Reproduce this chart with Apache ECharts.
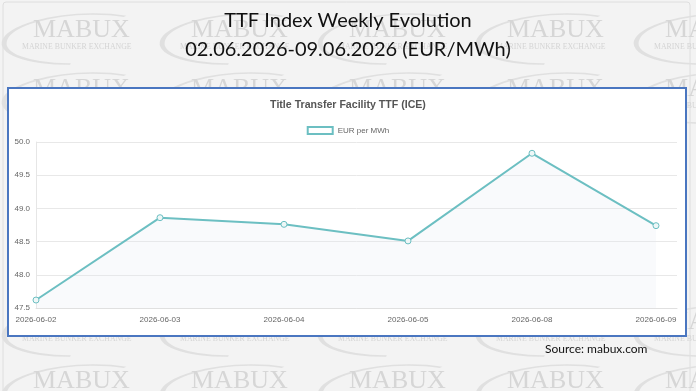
<!DOCTYPE html>
<html>
<head>
<meta charset="utf-8">
<script src="https://cdn.jsdelivr.net/npm/echarts@6/dist/echarts.min.js"></script>
<style>
  html, body { margin: 0; padding: 0; background: #f3f3f3; }
  #chart { width: 696px; height: 391px; }
</style>
</head>
<body>
<div id="chart"></div>
<script>
var dates = ['2026-06-02', '2026-06-03', '2026-06-04', '2026-06-05', '2026-06-08', '2026-06-09'];
var prices = [47.62, 48.86, 48.76, 48.51, 49.83, 48.74];
var seriesName = 'EUR per MWh';

var teal = '#6cbfc2';

var chartDom = document.getElementById('chart');
var myChart = echarts.init(chartDom);

// watermark logos behind everything
var marks = [];
var cols = [33, 191, 349, 507, 665];
var rows = [17, 76, 309, 368];
cols.forEach(function (x) {
  rows.forEach(function (y) {
    marks.push({
      type: 'arc', x: x + 48, y: y + 22, z: -10, silent: true,
      scaleY: 0.32, rotation: 0.06,
      shape: { cx: 0, cy: 0, r: 77, startAngle: Math.PI * 0.55, endAngle: Math.PI * 1.7, clockwise: true },
      style: { fill: null, stroke: '#e0e0e0', lineWidth: 5 }
    });
    marks.push({
      type: 'text', left: x, top: y, z: -9, silent: true,
      style: { text: 'MABUX', fill: '#d6d6d6', font: '26px "Liberation Serif"' }
    });
    marks.push({
      type: 'text', left: x - 11, top: y + 26, z: -9, silent: true,
      style: { text: 'MARINE BUNKER EXCHANGE', fill: '#d4d4d4', font: '7.8px "Liberation Serif"' }
    });
  });
});

var option = {
  backgroundColor: '#f3f3f3',
  animation: false,
  graphic: marks.concat([
    {
      type: 'rect', z: -11, silent: true,
      shape: { x: 3, y: 2, width: 687, height: 400, r: 3 },
      style: { fill: null, stroke: '#dedede', lineWidth: 1 }
    },
    {
      type: 'rect', z: -5, silent: true,
      shape: { x: 8, y: 88, width: 678, height: 248 },
      style: { fill: '#ffffff', stroke: '#4a76c0', lineWidth: 2 }
    },
    {
      type: 'text', left: 545, top: 343,
      style: { text: 'Source: mabux.com', fill: '#111', font: '12px Lato' }
    }
  ]),
  title: [
    {
      text: 'TTF Index Weekly Evolution',
      left: 'center', top: 6,
      textStyle: { fontFamily: 'Lato', fontWeight: 'normal', fontSize: 20, color: '#111' }
    },
    {
      text: '02.06.2026-09.06.2026 (EUR/MWh)',
      left: 'center', top: 35,
      textStyle: { fontFamily: 'Lato', fontWeight: 'normal', fontSize: 20, color: '#111' }
    },
    {
      text: 'Title Transfer Facility TTF (ICE)',
      left: 'center', top: 95,
      textStyle: { fontFamily: 'Liberation Sans', fontWeight: 'bold', fontSize: 10.6, color: '#555' }
    }
  ],
  legend: {
    top: 121, left: 'center',
    itemWidth: 25, itemHeight: 7, itemGap: 5,
    icon: 'rect',
    textStyle: { fontFamily: 'Liberation Sans', fontSize: 8, color: '#666' },
    data: [{ name: seriesName, itemStyle: { color: '#ffffff', borderColor: teal, borderWidth: 2 } }]
  },
  grid: { left: 36, right: 19, top: 142, bottom: 83, containLabel: false },
  xAxis: {
    type: 'value',
    min: 0,
    max: 5 + 21 / 124,
    interval: 1,
    axisLine: { show: true, lineStyle: { color: '#e0e0e0' } },
    axisTick: { show: false },
    splitLine: { show: false },
    axisLabel: {
      color: '#666', fontSize: 8, fontFamily: 'Liberation Sans', margin: 8,
      showMinLabel: true, showMaxLabel: true,
      formatter: function (v) { return Number.isInteger(v) ? dates[v] : ''; }
    }
  },
  yAxis: {
    type: 'value',
    min: 47.5, max: 50, interval: 0.5,
    axisLine: { show: true, lineStyle: { color: '#e6e6e6' } },
    axisTick: { show: false },
    splitLine: { lineStyle: { color: '#e8e8e8' } },
    axisLabel: {
      color: '#666', fontSize: 8, fontFamily: 'Liberation Sans', margin: 6,
      formatter: function (v) { return v.toFixed(1); }
    }
  },
  series: [
    {
      name: seriesName,
      type: 'line',
      data: prices.map(function (p, i) { return [i, p]; }),
      symbol: 'circle',
      symbolSize: 6,
      lineStyle: { color: teal, width: 2 },
      itemStyle: { color: '#eef7f7', borderColor: teal, borderWidth: 1 },
      areaStyle: { color: 'rgba(225,232,242,0.3)' }
    }
  ]
};

option && myChart.setOption(option);
</script>
</body>
</html>
